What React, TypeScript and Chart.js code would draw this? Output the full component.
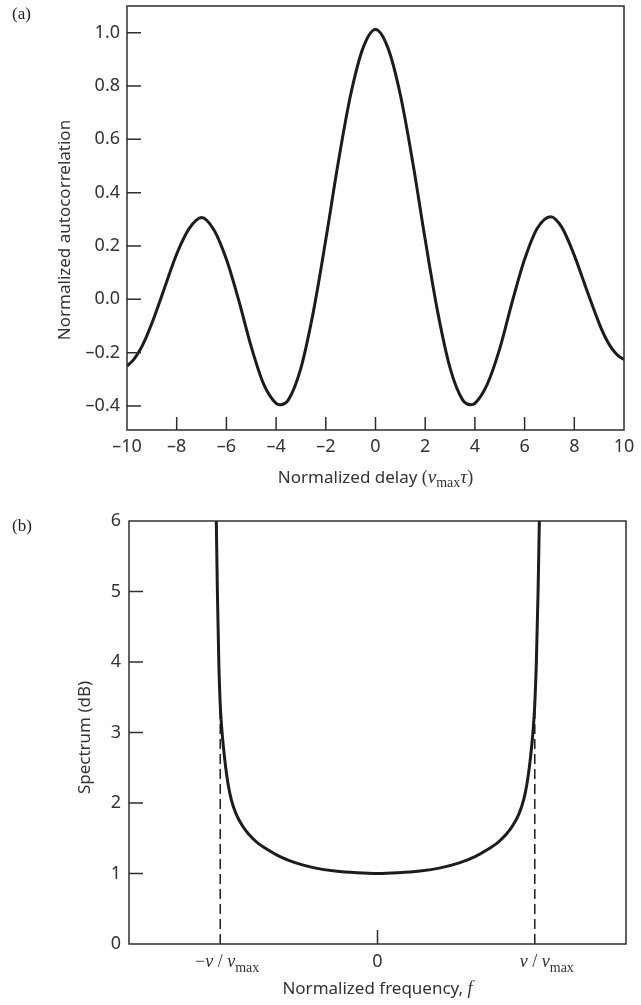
import React, { useEffect, useRef } from "react";
import { Chart, registerables } from "chart.js";

Chart.register(...registerables);

const SANS = "'Noto Sans', 'Liberation Sans', sans-serif";
const SERIF = "'Liberation Serif', 'DejaVu Serif', serif";
const TEXT = "#333333";
const FRAME = "#2e2e2e";
const CURVE = "#1c1c1c";

// ---------- Panel (a): normalized autocorrelation ----------
const delayX = [
  -10, -9.75, -9.5, -9.25, -9, -8.5, -8, -7.5, -7, -6.5, -6, -5.5, -5, -4.5, -4, -3.83, -3.5, -3, -2.5, -2, -1.5,
  -1, -0.5, 0, 0.5, 1, 1.5, 2, 2.5, 3, 3.5, 3.83, 4, 4.5, 5, 5.5, 6, 6.5, 7.05, 7.5, 8, 8.5, 9, 9.25, 9.5, 9.75,
  10,
];
const autocorrelation = [
  -0.25, -0.228, -0.194, -0.147, -0.09, 0.04, 0.17, 0.265, 0.307, 0.26, 0.15, -0.005, -0.178, -0.318, -0.39,
  -0.395, -0.376, -0.257, -0.046, 0.224, 0.513, 0.767, 0.943, 1.012, 0.943, 0.767, 0.513, 0.224, -0.046, -0.257,
  -0.376, -0.395, -0.39, -0.318, -0.185, -0.01, 0.15, 0.265, 0.31, 0.27, 0.165, 0.035, -0.09, -0.143, -0.183,
  -0.21, -0.226,
];
const delayTicks = [-10, -8, -6, -4, -2, 0, 2, 4, 6, 8, 10];
const autocorrTicks = [-0.4, -0.2, 0, 0.2, 0.4, 0.6, 0.8, 1.0];

// ---------- Panel (b): Doppler spectrum ----------
const frequencyX = [
  -1.025, -1.018, -1.009, -1.0, -0.99, -0.98, -0.965, -0.95, -0.93, -0.9, -0.86, -0.82, -0.77, -0.7, -0.62, -0.52,
  -0.4, -0.27, -0.13, 0, 0.13, 0.27, 0.4, 0.52, 0.62, 0.7, 0.77, 0.82, 0.86, 0.9, 0.93, 0.95, 0.965, 0.98, 0.99,
  1.0, 1.01, 1.021, 1.029,
];
const spectrumDb = [
  6.0, 5.0, 4.0, 3.4, 3.05, 2.8, 2.5, 2.27, 2.05, 1.85, 1.68, 1.56, 1.45, 1.34, 1.24, 1.15, 1.08, 1.035, 1.01, 1.0,
  1.01, 1.035, 1.08, 1.15, 1.24, 1.34, 1.45, 1.56, 1.68, 1.85, 2.05, 2.27, 2.5, 2.8, 3.05, 3.4, 4.0, 5.0, 6.0,
];
const spectrumTicks = [0, 1, 2, 3, 4, 5, 6];
const frequencyTicks = [-1, 0, 1];
const frequencyTickLabels = [
  { pre: "−", core: "ν / ν", sub: "max" },
  { pre: "", core: "0", sub: "" },
  { pre: "", core: "ν / ν", sub: "max" },
];
const cutoffFrequencies = [-1, 1];
const cutoffTop = 3.3;

type Run = { t: string; font: string; dy?: number };

function runsWidth(ctx: CanvasRenderingContext2D, runs: Run[]) {
  let w = 0;
  for (const r of runs) {
    ctx.font = r.font;
    w += ctx.measureText(r.t).width;
  }
  return w;
}

function drawRuns(ctx: CanvasRenderingContext2D, runs: Run[], x: number, y: number) {
  let cx = x;
  ctx.textAlign = "left";
  ctx.textBaseline = "alphabetic";
  for (const r of runs) {
    ctx.font = r.font;
    ctx.fillText(r.t, cx, y + (r.dy || 0));
    cx += ctx.measureText(r.t).width;
  }
}

function greekRuns(s: string, size: number): Run[] {
  const out: Run[] = [];
  for (const ch of s) {
    if (ch === "ν" || ch === "τ") out.push({ t: ch, font: `italic ${size}px ${SERIF}` });
    else out.push({ t: ch, font: `${size}px ${SERIF}` });
  }
  return out;
}

const dashMinus = (v: number, digits: number) =>
  (v < -1e-9 ? "–" : "") + Math.abs(v).toFixed(digits);

function tickFont() {
  return { family: SANS, size: 18 };
}

const panelAPlugin = {
  id: "panelA",
  afterDraw(chart: any) {
    const { ctx, chartArea: ca } = chart;
    const xs = chart.scales.x;
    const ys = chart.scales.y;
    ctx.save();
    ctx.strokeStyle = FRAME;
    ctx.lineWidth = 1.5;
    ctx.strokeRect(ca.left, ca.top, ca.right - ca.left, ca.bottom - ca.top);
    ctx.beginPath();
    delayTicks
      .filter((v) => v > xs.min && v < xs.max)
      .forEach((v) => {
        const p = xs.getPixelForValue(v);
        ctx.moveTo(p, ca.bottom);
        ctx.lineTo(p, ca.bottom - 13);
      });
    autocorrTicks.forEach((v) => {
      const p = ys.getPixelForValue(v);
      ctx.moveTo(ca.left, p);
      ctx.lineTo(ca.left + 14, p);
    });
    ctx.stroke();

    ctx.fillStyle = TEXT;
    const title: Run[] = [
      { t: "Normalized delay ", font: `17px ${SANS}` },
      { t: "(", font: `18px ${SERIF}` },
      { t: "ν", font: `italic 19px ${SERIF}` },
      { t: "max", font: `14px ${SERIF}`, dy: 4 },
      { t: "τ", font: `italic 19px ${SERIF}` },
      { t: ")", font: `18px ${SERIF}` },
    ];
    const w = runsWidth(ctx, title);
    drawRuns(ctx, title, (ca.left + ca.right) / 2 - w / 2, 483);

    ctx.save();
    ctx.translate(65, (ca.top + ca.bottom) / 2 + 12);
    ctx.rotate(-Math.PI / 2);
    ctx.font = `17px ${SANS}`;
    ctx.textAlign = "center";
    ctx.textBaseline = "middle";
    ctx.fillText("Normalized autocorrelation", 0, 0);
    ctx.restore();

    ctx.font = `17px ${SERIF}`;
    ctx.textAlign = "left";
    ctx.textBaseline = "alphabetic";
    ctx.fillStyle = "#222";
    ctx.fillText("(a)", 12, 19);
    ctx.restore();
  },
};

const panelBPlugin = {
  id: "panelB",
  afterDraw(chart: any) {
    const { ctx, chartArea: ca } = chart;
    const xs = chart.scales.x;
    const ys = chart.scales.y;
    ctx.save();
    ctx.strokeStyle = FRAME;
    ctx.lineWidth = 1.5;
    ctx.strokeRect(ca.left, ca.top, ca.right - ca.left, ca.bottom - ca.top);
    ctx.beginPath();
    spectrumTicks
      .filter((v) => v > ys.min && v < ys.max)
      .forEach((v) => {
        const p = ys.getPixelForValue(v);
        ctx.moveTo(ca.left, p);
        ctx.lineTo(ca.left + 14, p);
      });
    frequencyTicks
      .filter((v) => !cutoffFrequencies.includes(v))
      .forEach((v) => {
        const p = xs.getPixelForValue(v);
        ctx.moveTo(p, ca.bottom);
        ctx.lineTo(p, ca.bottom - 14);
      });
    ctx.stroke();

    ctx.fillStyle = TEXT;
    frequencyTicks.forEach((v, i) => {
      const lab = frequencyTickLabels[i];
      const px = xs.getPixelForValue(v);
      const baseline = ca.bottom + 23;
      if (!lab.sub) {
        ctx.font = `18px ${SANS}`;
        ctx.textAlign = "center";
        ctx.textBaseline = "alphabetic";
        ctx.fillText(lab.core, px, baseline);
        return;
      }
      const pre: Run[] = lab.pre ? [{ t: lab.pre, font: `18px ${SERIF}` }] : [];
      const core = greekRuns(lab.core, 18);
      const sub: Run[] = [{ t: lab.sub, font: `14px ${SERIF}`, dy: 5 }];
      const preW = runsWidth(ctx, pre);
      const coreW = runsWidth(ctx, core);
      drawRuns(ctx, [...pre, ...core, ...sub], px - coreW / 2 - preW, baseline);
    });

    const title: Run[] = [
      { t: "Normalized frequency, ", font: `17px ${SANS}` },
      { t: "f", font: `italic 18px ${SERIF}` },
    ];
    const w = runsWidth(ctx, title);
    drawRuns(ctx, title, (ca.left + ca.right) / 2 - w / 2, 494);

    ctx.save();
    ctx.translate(85, (ca.top + ca.bottom) / 2 + 5);
    ctx.rotate(-Math.PI / 2);
    ctx.font = `17px ${SANS}`;
    ctx.textAlign = "center";
    ctx.textBaseline = "middle";
    ctx.fillText("Spectrum (dB)", 0, 0);
    ctx.restore();

    ctx.font = `17px ${SERIF}`;
    ctx.textAlign = "left";
    ctx.textBaseline = "alphabetic";
    ctx.fillStyle = "#222";
    ctx.fillText("(b)", 12, 31);
    ctx.restore();
  },
};

function makeChartA(canvas: HTMLCanvasElement) {
  return new Chart(canvas, {
    type: "line",
    data: {
      datasets: [
        {
          data: delayX.map((x, i) => ({ x, y: autocorrelation[i] })),
          borderColor: CURVE,
          borderWidth: 3,
          pointRadius: 0,
          cubicInterpolationMode: "monotone",
          fill: false,
        },
      ],
    },
    options: {
      responsive: false,
      animation: false,
      events: [],
      layout: { padding: { left: 0, top: 6, right: 17, bottom: 0 } },
      plugins: { legend: { display: false }, tooltip: { enabled: false } },
      scales: {
        x: {
          type: "linear",
          min: -10,
          max: 10,
          afterBuildTicks: (s: any) => {
            s.ticks = delayTicks.map((v) => ({ value: v }));
          },
          ticks: {
            font: tickFont(),
            color: TEXT,
            padding: 6,
            maxRotation: 0,
            autoSkip: false,
            callback: (v: any) => dashMinus(Number(v), 0),
          },
          grid: { display: false, drawTicks: false },
          border: { display: false },
          afterFit: (s: any) => {
            s.height = 70;
            s.paddingLeft = 0;
            s.paddingRight = 0;
          },
        },
        y: {
          type: "linear",
          min: -0.49,
          max: 1.1,
          afterBuildTicks: (s: any) => {
            s.ticks = autocorrTicks.map((v) => ({ value: v }));
          },
          ticks: {
            font: tickFont(),
            color: TEXT,
            padding: 7,
            autoSkip: false,
            callback: (v: any) => dashMinus(Number(v), 1),
          },
          grid: { display: false, drawTicks: false },
          border: { display: false },
          afterFit: (s: any) => {
            s.width = 127;
            s.paddingTop = 0;
            s.paddingBottom = 0;
          },
        },
      },
    },
    plugins: [panelAPlugin],
  } as any);
}

function makeChartB(canvas: HTMLCanvasElement) {
  const dashed = cutoffFrequencies.map((f) => ({
    data: [
      { x: f, y: 0 },
      { x: f, y: cutoffTop },
    ],
    borderColor: CURVE,
    borderWidth: 1.5,
    borderDash: [10, 5],
    pointRadius: 0,
    fill: false,
  }));
  return new Chart(canvas, {
    type: "line",
    data: {
      datasets: [
        ...dashed,
        {
          data: frequencyX.map((x, i) => ({ x, y: spectrumDb[i] })),
          borderColor: CURVE,
          borderWidth: 3,
          pointRadius: 0,
          cubicInterpolationMode: "monotone",
          fill: false,
        },
      ],
    },
    options: {
      responsive: false,
      animation: false,
      events: [],
      layout: { padding: { left: 0, top: 21, right: 15, bottom: 0 } },
      plugins: { legend: { display: false }, tooltip: { enabled: false } },
      scales: {
        x: {
          type: "linear",
          min: -1.58,
          max: 1.58,
          afterBuildTicks: (s: any) => {
            s.ticks = frequencyTicks.map((v) => ({ value: v }));
          },
          ticks: { display: false },
          grid: { display: false, drawTicks: false },
          border: { display: false },
          afterFit: (s: any) => {
            s.height = 61;
            s.paddingLeft = 0;
            s.paddingRight = 0;
          },
        },
        y: {
          type: "linear",
          min: 0,
          max: 6,
          afterBuildTicks: (s: any) => {
            s.ticks = spectrumTicks.map((v) => ({ value: v }));
          },
          ticks: {
            font: tickFont(),
            color: TEXT,
            padding: 8,
            autoSkip: false,
            callback: (v: any) => String(v),
          },
          grid: { display: false, drawTicks: false },
          border: { display: false },
          afterFit: (s: any) => {
            s.width = 129;
            s.paddingTop = 0;
            s.paddingBottom = 0;
          },
        },
      },
    },
    plugins: [panelBPlugin],
  } as any);
}

export default function App() {
  const refA = useRef<HTMLCanvasElement | null>(null);
  const refB = useRef<HTMLCanvasElement | null>(null);

  useEffect(() => {
    const a = refA.current ? makeChartA(refA.current) : null;
    const b = refB.current ? makeChartB(refB.current) : null;
    return () => {
      a && a.destroy();
      b && b.destroy();
    };
  }, []);

  return (
    <div
      style={{
        position: "absolute",
        left: 0,
        top: 0,
        width: 641,
        height: 1005,
        background: "#ffffff",
        overflow: "hidden",
      }}
    >
      <canvas
        ref={refA}
        width={641}
        height={500}
        style={{ position: "absolute", left: 0, top: 0, width: 641, height: 500 }}
      />
      <canvas
        ref={refB}
        width={641}
        height={505}
        style={{ position: "absolute", left: 0, top: 500, width: 641, height: 505 }}
      />
    </div>
  );
}
